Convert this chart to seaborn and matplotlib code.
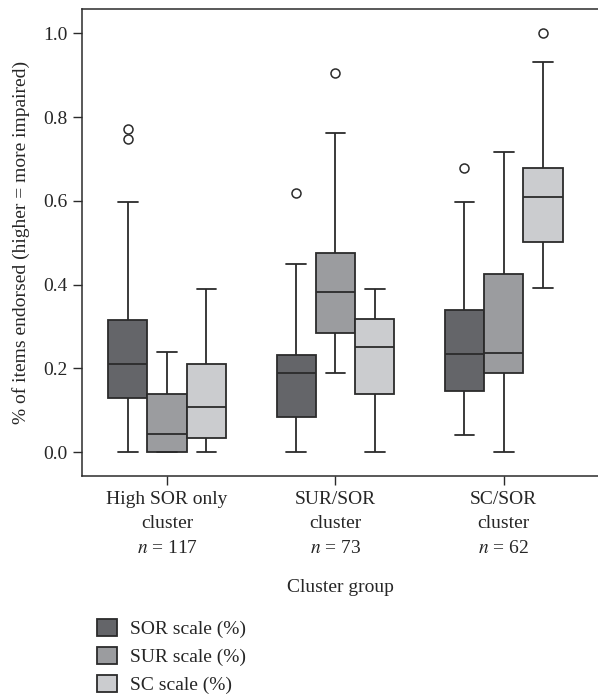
import numpy as np
import pandas as pd
import seaborn as sns
import matplotlib.pyplot as plt

# cluster groups (x categories)
clusters = ["High SOR only\ncluster\n$n$ = 117",
            "SUR/SOR\ncluster\n$n$ = 73",
            "SC/SOR\ncluster\n$n$ = 62"]
scales = ["SOR scale (%)", "SUR scale (%)", "SC scale (%)"]

# five-number summaries: lower whisker, Q1, median, Q3, upper whisker
sor_stats = [[0.0, 0.129, 0.211, 0.316, 0.597],
             [0.0, 0.084, 0.188, 0.233, 0.449],
             [0.041, 0.146, 0.235, 0.339, 0.597]]
sur_stats = [[0.0, 0.0, 0.044, 0.140, 0.240],
             [0.189, 0.285, 0.382, 0.476, 0.762],
             [0.0, 0.190, 0.237, 0.426, 0.717]]
sc_stats = [[0.0, 0.035, 0.107, 0.210, 0.390],
            [0.0, 0.140, 0.250, 0.317, 0.390],
            [0.391, 0.501, 0.609, 0.678, 0.931]]

# outliers per cluster
sor_out = [[0.747, 0.771], [0.620], [0.678]]
sur_out = [[], [0.905], []]
sc_out = [[], [], [1.0]]

colors = ["#646569", "#9b9c9f", "#cbcccf"]
line_col = "#2b2b2b"
WIDTH = 0.7

rows = []
for scale, stats in zip(scales, [sor_stats, sur_stats, sc_stats]):
    for cl, vals in zip(clusters, stats):
        for v in vals:
            rows.append({"cluster": cl, "scale": scale, "value": v})
df = pd.DataFrame(rows)

# outliers sit on the same dodged positions as their boxes
out_rows = []
for si, (scale, outs) in enumerate(zip(scales, [sor_out, sur_out, sc_out])):
    for ci, vals in enumerate(outs):
        for v in vals:
            out_rows.append({"pos": ci + (si - 1) * WIDTH / 3, "value": v})
out_df = pd.DataFrame(out_rows)

sns.set_style("ticks")
plt.rcParams["font.family"] = ["Liberation Serif", "DejaVu Serif"]
plt.rcParams["mathtext.fontset"] = "stix"
plt.rcParams["font.size"] = 14

fig = plt.figure(figsize=(5.98, 6.97), dpi=100)
ax = fig.add_axes([0.137, 0.317, 0.863, 0.670])

sns.boxplot(data=df, x="cluster", y="value", hue="scale", order=clusters,
            hue_order=scales, palette=colors, width=WIDTH, gap=0,
            whis=(0, 100), showfliers=False, linecolor=line_col,
            linewidth=1.3, saturation=1, ax=ax)
sns.scatterplot(data=out_df, x="pos", y="value", marker="o", s=42,
                facecolor="white", edgecolor=line_col, linewidth=1.1,
                legend=False, ax=ax, zorder=5)

ax.set_xlim(-0.506, 2.56)
ax.set_ylim(-0.057, 1.058)
ax.set_yticks(np.arange(0, 1.01, 0.2))
ax.set_yticklabels([f"{t:.1f}" for t in np.arange(0, 1.01, 0.2)])
ax.set_xticks(range(3))
ax.set_xticklabels(clusters, linespacing=1.58)
ax.set_xlabel("Cluster group", labelpad=16)
ax.set_ylabel("% of items endorsed (higher = more impaired)", labelpad=9)
ax.tick_params(direction="out", length=6.5, width=1, color=line_col,
               labelsize=14, pad=4)
for side in ["left", "top", "bottom"]:
    ax.spines[side].set_color(line_col)
    ax.spines[side].set_linewidth(1.1)
ax.spines["right"].set_visible(False)

handles, labels = ax.get_legend_handles_labels()
ax.get_legend().remove()
fig.legend(handles, labels, loc="upper left",
           bbox_to_anchor=(87.7 / 598, 1 - 609 / 697), frameon=False,
           borderpad=0, handlelength=1.0, handleheight=1.0,
           handletextpad=0.65, labelspacing=0.45, fontsize=14)

fig.savefig("out.png", dpi=100)
